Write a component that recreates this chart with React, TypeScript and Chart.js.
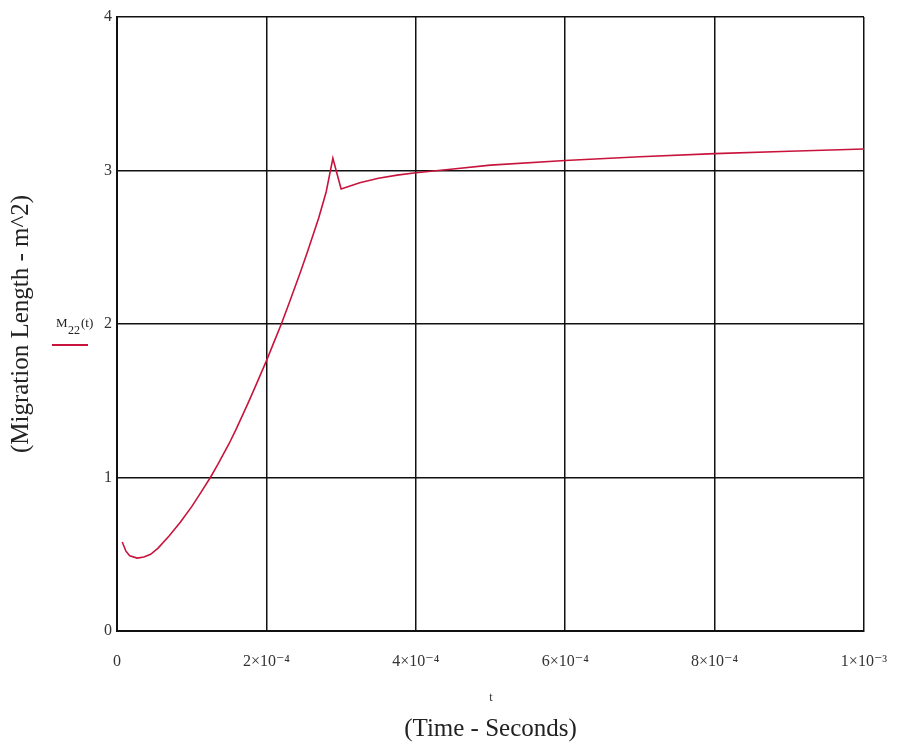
import React, { useEffect, useRef } from "react";
import { Chart, registerables } from "chart.js";
Chart.register(...registerables);

// time (seconds)
const timeValues = [
  0.07e-4, 0.12e-4, 0.17e-4, 0.27e-4, 0.36e-4, 0.45e-4, 0.55e-4, 0.7e-4, 0.85e-4,
  1.0e-4, 1.1e-4, 1.25e-4, 1.35e-4, 1.5e-4, 1.6e-4, 1.75e-4, 1.85e-4, 2.0e-4,
  2.1e-4, 2.2e-4, 2.3e-4, 2.45e-4, 2.55e-4, 2.7e-4, 2.8e-4, 2.89e-4, 3.0e-4,
  3.25e-4, 3.5e-4, 3.75e-4, 4.0e-4, 4.5e-4, 5.0e-4, 6.0e-4, 7.0e-4, 8.0e-4,
  9.0e-4, 10.0e-4,
];
// M22(t), migration length (m^2)
const migrationValues = [
  0.58, 0.52, 0.49, 0.475, 0.482, 0.5, 0.54, 0.62, 0.71,
  0.81, 0.885, 1.0, 1.085, 1.22, 1.32, 1.48, 1.59, 1.76,
  1.88, 2.0, 2.13, 2.33, 2.47, 2.69, 2.86, 3.08, 2.88,
  2.92, 2.95, 2.97, 2.985, 3.01, 3.035, 3.065, 3.09, 3.11,
  3.125, 3.14,
];
const xTickValues = [0, 2e-4, 4e-4, 6e-4, 8e-4, 1e-3];
const xTickLabels = ["0", "2×10⁻⁴", "4×10⁻⁴", "6×10⁻⁴", "8×10⁻⁴", "1×10⁻³"];
const yTickValues = [0, 1, 2, 3, 4];
const yTickLabels = ["0", "1", "2", "3", "4"];

const SERIF = "'Liberation Serif', 'DejaVu Serif', serif";
const LINE_COLOR = "#c8143c";

export default function App() {
  const ref = useRef<HTMLCanvasElement>(null);
  useEffect(() => {
    if (!ref.current) return;
    const extras = {
      id: "extras",
      afterDraw(chart: any) {
        const ctx = chart.ctx;
        ctx.save();
        ctx.fillStyle = "#222";
        ctx.textBaseline = "alphabetic";
        ctx.textAlign = "left";
        ctx.font = `13px ${SERIF}`;
        ctx.fillText("M", 56, 327);
        ctx.font = `12px ${SERIF}`;
        ctx.fillText("22", 68, 334);
        ctx.font = `13px ${SERIF}`;
        ctx.fillText("(t)", 81, 327);
        ctx.strokeStyle = LINE_COLOR;
        ctx.lineWidth = 2;
        ctx.beginPath();
        ctx.moveTo(52, 345);
        ctx.lineTo(88, 345);
        ctx.stroke();
        ctx.font = `12px ${SERIF}`;
        ctx.textAlign = "center";
        ctx.fillStyle = "#333";
        ctx.fillText("t", 491, 701);
        ctx.restore();
      },
    };
    const chart = new Chart(ref.current, {
      type: "line",
      data: {
        datasets: [
          {
            label: "M22(t)",
            data: timeValues.map((t, i) => ({ x: t, y: migrationValues[i] })),
            borderColor: LINE_COLOR,
            borderWidth: 1.6,
            pointRadius: 0,
            tension: 0,
            fill: false,
          },
        ],
      },
      options: {
        animation: false,
        responsive: false,
        maintainAspectRatio: false,
        layout: { padding: { left: 0, top: 17, right: 37, bottom: 0 } },
        plugins: { legend: { display: false }, tooltip: { enabled: false } },
        scales: {
          x: {
            type: "linear",
            min: 0,
            max: 1e-3,
            afterBuildTicks(scale: any) {
              scale.ticks = xTickValues.map((v) => ({ value: v }));
            },
            afterFit(scale: any) {
              scale.height = 119;
              scale.paddingLeft = 0;
              scale.paddingRight = 0;
            },
            grid: { color: "#111", lineWidth: 1.5, drawTicks: false },
            border: { color: "#111", width: 2 },
            ticks: {
              padding: 21,
              color: "#333",
              font: { family: SERIF, size: 16 },
              maxRotation: 0,
              autoSkip: false,
              callback: (v: any, i: number) => xTickLabels[i],
            },
            title: {
              display: true,
              text: "(Time - Seconds)",
              color: "#222",
              font: { family: SERIF, size: 25 },
              padding: { top: 0, bottom: 6 },
            },
          },
          y: {
            type: "linear",
            min: 0,
            max: 4,
            afterBuildTicks(scale: any) {
              scale.ticks = yTickValues.map((v) => ({ value: v }));
            },
            afterFit(scale: any) {
              scale.width = 117;
              scale.paddingTop = 0;
              scale.paddingBottom = 0;
            },
            grid: { color: "#111", lineWidth: 1.5, drawTicks: false },
            border: { color: "#111", width: 2 },
            ticks: {
              padding: 5,
              color: "#333",
              font: { family: SERIF, size: 16 },
              autoSkip: false,
              callback: (v: any, i: number) => yTickLabels[i],
            },
            title: {
              display: true,
              text: "(Migration Length - m^2)",
              color: "#222",
              font: { family: SERIF, size: 25 },
              padding: { top: 6, bottom: 0 },
            },
          },
        },
      },
      plugins: [extras],
    });
    return () => chart.destroy();
  }, []);
  return (
    <div style={{ position: "fixed", left: 0, top: 0, width: 901, height: 750, background: "#fff" }}>
      <canvas ref={ref} width={901} height={750} style={{ width: 901, height: 750 }} />
    </div>
  );
}
